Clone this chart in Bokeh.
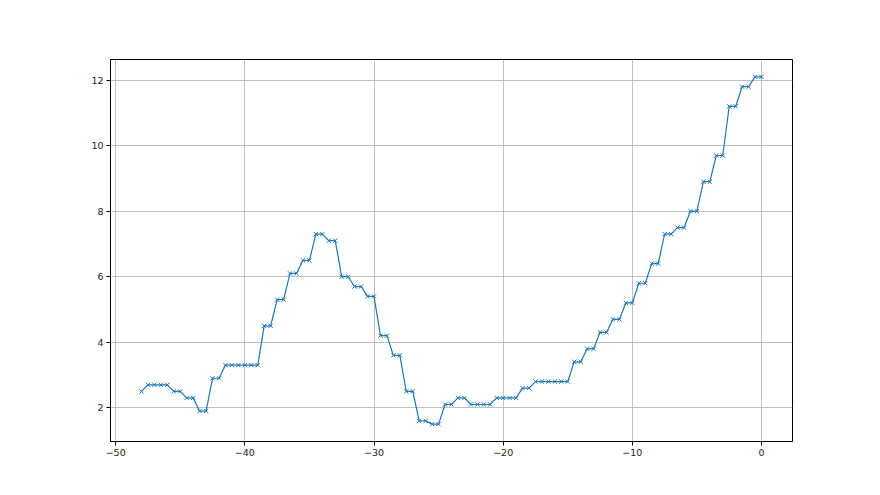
from bokeh.plotting import figure
from bokeh.models import Range1d, FixedTicker
from bokeh.embed import file_html
from bokeh.resources import INLINE

x_values = [
    -48.0, -47.5, -47.0, -46.5, -46.0, -45.5, -45.0, -44.5, -44.0, -43.5,
    -43.0, -42.5, -42.0, -41.5, -41.0, -40.5, -40.0, -39.5, -39.0, -38.5,
    -38.0, -37.5, -37.0, -36.5, -36.0, -35.5, -35.0, -34.5, -34.0, -33.5,
    -33.0, -32.5, -32.0, -31.5, -31.0, -30.5, -30.0, -29.5, -29.0, -28.5,
    -28.0, -27.5, -27.0, -26.5, -26.0, -25.5, -25.0, -24.5, -24.0, -23.5,
    -23.0, -22.5, -22.0, -21.5, -21.0, -20.5, -20.0, -19.5, -19.0, -18.5,
    -18.0, -17.5, -17.0, -16.5, -16.0, -15.5, -15.0, -14.5, -14.0, -13.5,
    -13.0, -12.5, -12.0, -11.5, -11.0, -10.5, -10.0, -9.5, -9.0, -8.5,
    -8.0, -7.5, -7.0, -6.5, -6.0, -5.5, -5.0, -4.5, -4.0, -3.5,
    -3.0, -2.5, -2.0, -1.5, -1.0, -0.5, 0.0,
]
y_values = [
    2.5, 2.7, 2.7, 2.7, 2.7, 2.5, 2.5, 2.3, 2.3, 1.9,
    1.9, 2.9, 2.9, 3.3, 3.3, 3.3, 3.3, 3.3, 3.3, 4.5,
    4.5, 5.3, 5.3, 6.1, 6.1, 6.5, 6.5, 7.3, 7.3, 7.1,
    7.1, 6.0, 6.0, 5.7, 5.7, 5.4, 5.4, 4.2, 4.2, 3.6,
    3.6, 2.5, 2.5, 1.6, 1.6, 1.5, 1.5, 2.1, 2.1, 2.3,
    2.3, 2.1, 2.1, 2.1, 2.1, 2.3, 2.3, 2.3, 2.3, 2.6,
    2.6, 2.8, 2.8, 2.8, 2.8, 2.8, 2.8, 3.4, 3.4, 3.8,
    3.8, 4.3, 4.3, 4.7, 4.7, 5.2, 5.2, 5.8, 5.8, 6.4,
    6.4, 7.3, 7.3, 7.5, 7.5, 8.0, 8.0, 8.9, 8.9, 9.7,
    9.7, 11.2, 11.2, 11.8, 11.8, 12.1, 12.1,
]
x_ticks = [-50, -40, -30, -20, -10, 0]
y_ticks = [2, 4, 6, 8, 10, 12]

xmin, xmax = min(x_values), max(x_values)
ymin, ymax = min(y_values), max(y_values)
xpad = (xmax - xmin) * 0.05
ypad = (ymax - ymin) * 0.05

p = figure(width=864, height=479, output_backend="svg", toolbar_location=None,
           x_range=Range1d(xmin - xpad, xmax + xpad),
           y_range=Range1d(ymin - ypad, ymax + ypad),
           min_border_left=110, min_border_right=72,
           min_border_top=59, min_border_bottom=38)
p.background_fill_color = "white"
p.border_fill_color = "white"
p.outline_line_color = "black"
p.outline_line_width = 1

p.line(x_values, y_values, line_color="#1f77b4", line_width=1.2)
p.scatter(x_values, y_values, marker="x", size=6, line_color="#1f77b4", line_width=1)

for ax in (p.xaxis[0], p.yaxis[0]):
    ax.axis_line_color = "black"
    ax.major_tick_out = 4
    ax.major_tick_in = 0
    ax.minor_tick_line_color = None
    ax.major_label_text_font = "DejaVu Sans"
    ax.major_label_text_font_size = "9.5px"
    ax.major_label_text_color = "#222222"
    ax.major_label_standoff = 3

p.xaxis.ticker = FixedTicker(ticks=x_ticks)
p.yaxis.ticker = FixedTicker(ticks=y_ticks)

p.xgrid.ticker = FixedTicker(ticks=x_ticks)
p.ygrid.ticker = FixedTicker(ticks=y_ticks)
p.grid.grid_line_color = "#b0b0b0"
p.grid.grid_line_width = 0.8

open("out.html", "w").write(file_html(p, INLINE))
